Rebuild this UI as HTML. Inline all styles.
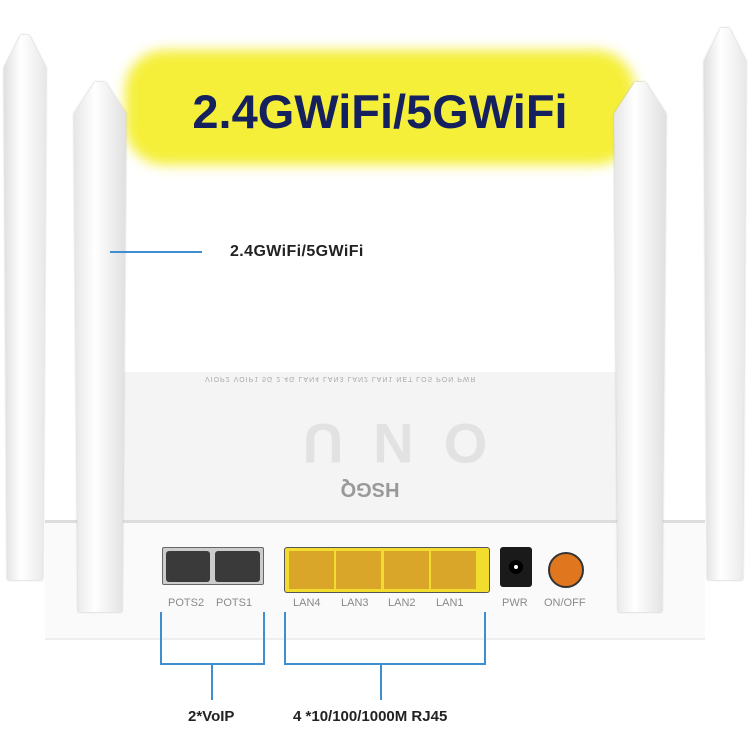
<!DOCTYPE html>
<html><head><style>
body{margin:0;width:750px;height:750px;background:#fff;position:relative;overflow:hidden;font-family:"Liberation Sans",sans-serif}
div{position:absolute;box-sizing:border-box}
.lbl{font-size:11px;color:#8a8a8a;top:597px}
.bl{background:#3f8fd0}
.ant{filter:drop-shadow(0 0 1px #bbb)}
</style></head><body>
<div style="left:125px;top:50px;width:510px;height:115px;background:#f5ef3a;border-radius:40px;filter:blur(6px)"></div>
<div style="left:130px;top:84px;width:500px;text-align:center;font-size:47px;font-weight:bold;color:#14215e">2.4GWiFi/5GWiFi</div>

<!-- router top panel -->
<div style="left:118px;top:372px;width:510px;height:150px;background:#f4f4f4;border-radius:6px"></div>
<div style="left:205px;top:375px;width:375px;font-size:7px;color:#aaa;letter-spacing:1px;transform:scaleY(-1)">VIOP2 VOIP1 5G 2.4G LAN4 LAN3 LAN2 LAN1 NET LOS PON PWR</div>
<div style="left:205px;top:418px;width:350px;height:50px;font-size:56px;font-weight:bold;color:#e2e2e2;letter-spacing:30px;text-align:center;line-height:50px;transform:scale(-1,-1)">ONU</div>
<div style="left:275px;top:477px;width:190px;font-size:20px;font-weight:bold;color:#999;text-align:center;transform:scale(-1,-1)">HSGQ</div>
<div style="left:45px;top:520px;width:660px;height:120px;background:#fafafa;border-top:3px solid #ddd;border-bottom:2px solid #eee"></div>

<!-- antennas -->
<div class="ant" style="left:4px;top:35px;width:42px;height:545px"><div style="left:0;top:0;width:100%;height:100%;background:linear-gradient(90deg,#e0e0e0,#fff 40%,#e8e8e8);clip-path:polygon(40% 0,60% 0,100% 6%,92% 100%,8% 100%,0 6%);"></div></div>
<div class="ant" style="left:74px;top:82px;width:52px;height:530px"><div style="left:0;top:0;width:100%;height:100%;background:linear-gradient(90deg,#e6e6e6,#fff 40%,#e0e0e0);clip-path:polygon(40% 0,60% 0,100% 6%,92% 100%,8% 100%,0 6%);"></div></div>
<div class="ant" style="left:614px;top:82px;width:52px;height:530px"><div style="left:0;top:0;width:100%;height:100%;background:linear-gradient(90deg,#e6e6e6,#fff 40%,#e0e0e0);clip-path:polygon(40% 0,60% 0,100% 6%,92% 100%,8% 100%,0 6%);"></div></div>
<div class="ant" style="left:704px;top:28px;width:42px;height:552px"><div style="left:0;top:0;width:100%;height:100%;background:linear-gradient(90deg,#e0e0e0,#fff 40%,#e8e8e8);clip-path:polygon(40% 0,60% 0,100% 6%,92% 100%,8% 100%,0 6%);"></div></div>

<div class="bl" style="left:110px;top:251px;width:92px;height:2px"></div>
<div style="left:230px;top:243px;font-size:16px;font-weight:bold;color:#222;letter-spacing:0.4px">2.4GWiFi/5GWiFi</div>

<!-- ports -->
<div style="left:162px;top:547px;width:102px;height:38px;background:#ccc;border:1px solid #666;border-radius:2px"></div>
<div style="left:166px;top:551px;width:44px;height:31px;background:#3a3a3a;border-radius:3px"></div>
<div style="left:215px;top:551px;width:45px;height:31px;background:#3a3a3a;border-radius:3px"></div>
<div style="left:284px;top:547px;width:206px;height:46px;background:#f2dc2e;border:1px solid #555;border-radius:3px"></div>
<div style="left:289px;top:551px;width:45px;height:38px;background:#d9a629"></div>
<div style="left:336px;top:551px;width:45px;height:38px;background:#d9a629"></div>
<div style="left:384px;top:551px;width:45px;height:38px;background:#d9a629"></div>
<div style="left:431px;top:551px;width:45px;height:38px;background:#d9a629"></div>
<div style="left:500px;top:547px;width:32px;height:40px;background:#1a1a1a;border-radius:3px"></div>
<div style="left:509px;top:560px;width:14px;height:14px;background:#fff;border-radius:50%;border:5px solid #000"></div>
<div style="left:548px;top:552px;width:36px;height:36px;background:#e0761e;border-radius:50%;border:2px solid #333"></div>
<div class="lbl" style="left:168px">POTS2</div><div class="lbl" style="left:216px">POTS1</div>
<div class="lbl" style="left:293px">LAN4</div><div class="lbl" style="left:341px">LAN3</div>
<div class="lbl" style="left:388px">LAN2</div><div class="lbl" style="left:436px">LAN1</div>
<div class="lbl" style="left:502px">PWR</div><div class="lbl" style="left:544px">ON/OFF</div>

<!-- brackets -->
<div style="left:160px;top:612px;width:105px;height:53px;border:2px solid #3f8fd0;border-top:none"></div>
<div class="bl" style="left:211px;top:664px;width:2px;height:36px"></div>
<div style="left:284px;top:612px;width:202px;height:53px;border:2px solid #3f8fd0;border-top:none"></div>
<div class="bl" style="left:380px;top:664px;width:2px;height:36px"></div>
<div style="left:188px;top:708px;font-size:15px;font-weight:bold;color:#222">2*VoIP</div>
<div style="left:293px;top:708px;font-size:15px;font-weight:bold;color:#222">4 *10/100/1000M RJ45</div>
</body></html>
